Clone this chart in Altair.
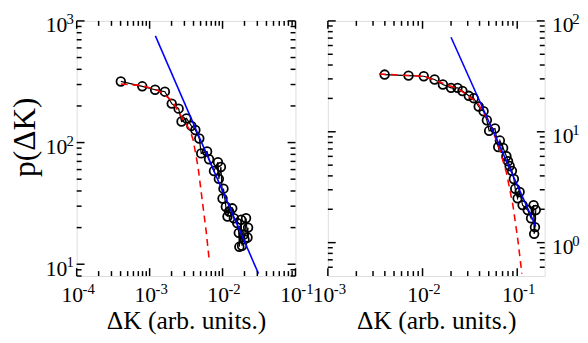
import altair as alt
import pandas as pd

FONT = "Liberation Serif, Times New Roman, DejaVu Serif, serif"

# ---------------- left panel data ----------------
left_pts_x = [4.03e-4, 7.93e-4, 1.19e-3, 1.62e-3, 2.01e-3, 2.50e-3, 2.74e-3, 3.20e-3, 3.74e-3,
              4.24e-3, 4.80e-3, 5.10e-3, 6.14e-3, 6.53e-3, 7.63e-3, 8.65e-3, 8.90e-3, 9.50e-3,
              1.00e-2, 1.03e-2, 1.11e-2, 1.17e-2, 1.23e-2, 1.36e-2, 1.43e-2, 1.59e-2, 1.67e-2,
              1.70e-2, 1.80e-2, 1.85e-2, 1.96e-2, 2.00e-2, 2.10e-2, 2.20e-2, 2.24e-2]
left_pts_y = [318, 290, 272, 262, 209, 190, 149, 158, 137,
              127, 108, 81.5, 84.5, 72.9, 58.4, 69, 50.3, 62.9,
              34.7, 41.8, 29.7, 24.7, 27.1, 28.8, 23.9, 21.8, 18.1,
              13.9, 23.2, 14.2, 17.5, 16.0, 23.9, 16.6, 20.0]
left_fit_x = [4.03e-4, 7.93e-4, 1.33e-3, 2.01e-3, 2.74e-3, 3.55e-3, 3.94e-3, 4.60e-3,
              5.37e-3, 5.96e-3, 6.60e-3]
left_fit_y = [303, 294, 267, 222, 163, 127, 106, 64, 30.6, 18.7, 10.5]
left_pow_x = [1.2e-3, 3.11e-2]
left_pow_y = [753, 8.36]

# ---------------- right panel data ----------------
right_pts_x = [3.98e-3, 7.11e-3, 1.03e-2, 1.34e-2, 1.64e-2, 2.00e-2, 2.34e-2, 2.64e-2, 3.08e-2,
               3.47e-2, 3.92e-2, 4.41e-2, 4.78e-2, 5.05e-2, 5.82e-2, 6.30e-2, 6.56e-2, 7.10e-2,
               7.69e-2, 8.00e-2, 8.32e-2, 8.79e-2, 9.22e-2, 9.53e-2, 0.101, 0.106, 0.114,
               0.129, 0.140, 0.149, 0.151, 0.154, 0.157]
right_pts_y = [32.8, 32.1, 31.7, 29.6, 26.7, 24.9, 24.9, 23.3, 21.1,
               20.1, 16.9, 15.3, 12.7, 10.2, 10.7, 7.28, 8.33, 7.13,
               6.02, 5.43, 4.91, 4.44, 3.75, 3.06, 2.51, 2.86, 2.18,
               1.97, 1.66, 2.18, 1.20, 1.38, 1.97]
right_fit_x = [3.48e-3, 1.03e-2, 2.43e-2, 3.77e-2, 4.97e-2, 6.30e-2, 7.69e-2, 9.0e-2, 0.101, 0.112]
right_fit_y = [33.2, 31.7, 24.2, 18.4, 12.7, 7.63, 4.3, 2.18, 1.1, 0.525]
right_pow_x = [2.0e-2, 0.157]
right_pow_y = [71.3, 1.4]

# ---------------- axes ----------------
left_xdomain = [1e-4, 1e-1]
left_ydomain = [8, 1000]
right_xdomain = [1e-3, 0.195]
right_ydomain = [0.5, 100]

left_x_major = [1e-4, 1e-3, 1e-2, 1e-1]
left_x_exp = ["-4", "-3", "-2", "-1"]
left_x_minor = [m * 10.0 ** e for e in (-4, -3, -2) for m in range(2, 10)]
left_y_major = [10, 100, 1000]
left_y_exp = ["1", "2", "3"]
left_y_minor = [8, 9] + [m * 10 for m in range(2, 10)] + [m * 100 for m in range(2, 10)]
right_x_major = [1e-3, 1e-2, 1e-1]
right_x_exp = ["-3", "-2", "-1"]
right_x_minor = [m * 10.0 ** e for e in (-3, -2) for m in range(2, 10)]
right_y_major = [1, 10, 100]
right_y_exp = ["0", "1", "2"]
right_y_minor = [0.6, 0.7, 0.8, 0.9] + list(range(2, 10)) + [m * 10 for m in range(2, 10)]

W, H = 223, 260
BASE_SIZE = 22
EXP_SIZE = 15


def panel(w, h, px, py, fx, fy, bx, by, xdom, ydom, xmaj, xexp, xmin, ymaj, yexp, ymin,
          yorient, ytitle):
    xs = alt.Scale(type="log", domain=xdom, nice=False)
    ys = alt.Scale(type="log", domain=ydom, nice=False)
    xaxis = alt.Axis(values=xmaj, labelExpr="'10'", ticks=False, domain=False, grid=False,
                     labelFlush=False, labelOverlap=False, labelFont=FONT,
                     labelFontSize=BASE_SIZE, labelColor="black", labelPadding=9,
                     labelAlign="right", labelOffset=6,
                     title="ΔK (arb. units.)", titleFont=FONT, titleFontSize=26,
                     titleFontWeight="normal", titleColor="black", titlePadding=2)
    yaxis = alt.Axis(orient=yorient, values=ymaj, labelExpr="'10'", ticks=False, domain=False,
                     grid=False, labelFlush=False, labelOverlap=False, labelFont=FONT,
                     labelFontSize=BASE_SIZE, labelColor="black",
                     labelPadding=10 if yorient == "left" else 7, labelOffset=4,
                     title=ytitle, titleFont=FONT, titleFontSize=32, titleFontWeight="normal",
                     titleColor="black", titlePadding=4, titleY=118)

    def X(f):
        return alt.X(f, type="quantitative", scale=xs, axis=xaxis)

    def Y(f):
        return alt.Y(f, type="quantitative", scale=ys, axis=yaxis)

    pts = pd.DataFrame({"x": px, "y": py})
    fit = pd.DataFrame({"x": fx, "y": fy})
    pw = pd.DataFrame({"x": bx, "y": by})
    layers = [
        alt.Chart(pts).mark_line(color="black", strokeWidth=1.2).encode(x=X("x"), y=Y("y")),
        alt.Chart(pts).mark_point(shape="circle", filled=False, color="black", size=78,
                                  strokeWidth=1.8, opacity=1).encode(x=X("x"), y=Y("y")),
        alt.Chart(fit).mark_line(color="#ff0000", strokeWidth=1.6, strokeDash=[7, 5]).encode(x=X("x"), y=Y("y")),
        alt.Chart(pw).mark_line(color="#0000ff", strokeWidth=1.6).encode(x=X("x"), y=Y("y")),
    ]
    # inward ticks on all four sides
    for vals, L in ((xmaj, 8), (xmin, 5)):
        df = pd.DataFrame({"v": vals})
        layers.append(alt.Chart(df).mark_rule(color="black", strokeWidth=1.5).encode(
            x=X("v"), y=alt.value(h), y2=alt.value(h - L)))
        layers.append(alt.Chart(df).mark_rule(color="black", strokeWidth=1.5).encode(
            x=X("v"), y=alt.value(0), y2=alt.value(L)))
    for vals, L in ((ymaj, 8), (ymin, 5)):
        df = pd.DataFrame({"v": vals})
        layers.append(alt.Chart(df).mark_rule(color="black", strokeWidth=1.5).encode(
            y=Y("v"), x=alt.value(0), x2=alt.value(L)))
        layers.append(alt.Chart(df).mark_rule(color="black", strokeWidth=1.5).encode(
            y=Y("v"), x=alt.value(w), x2=alt.value(w - L)))
    # superscript exponents of the tick labels
    xe = pd.DataFrame({"v": xmaj, "e": xexp})
    layers.append(alt.Chart(xe).mark_text(font=FONT, fontSize=EXP_SIZE, color="black",
                                          align="left", baseline="top", dx=6).encode(
        x=X("v"), y=alt.value(h + 6), text="e:N"))
    ye = pd.DataFrame({"v": ymaj, "e": yexp})
    if yorient == "left":
        layers.append(alt.Chart(ye).mark_text(font=FONT, fontSize=EXP_SIZE, color="black",
                                              align="right", baseline="middle", dy=-2).encode(
            y=Y("v"), x=alt.value(-3), text="e:N"))
    else:
        layers.append(alt.Chart(ye).mark_text(font=FONT, fontSize=EXP_SIZE, color="black",
                                              align="left", baseline="middle", dy=-2).encode(
            y=Y("v"), x=alt.value(w + 28), text="e:N"))
    return alt.layer(*layers).properties(width=w, height=h)


left = panel(W, H, left_pts_x, left_pts_y, left_fit_x, left_fit_y, left_pow_x, left_pow_y,
             left_xdomain, left_ydomain, left_x_major, left_x_exp, left_x_minor,
             left_y_major, left_y_exp, left_y_minor, "left", "p(ΔK)")
right = panel(221, H, right_pts_x, right_pts_y, right_fit_x, right_fit_y, right_pow_x, right_pow_y,
              right_xdomain, right_ydomain, right_x_major, right_x_exp, right_x_minor,
              right_y_major, right_y_exp, right_y_minor, "right", "")

chart = alt.hconcat(left, right, spacing=33, bounds="flush").configure_view(
    stroke="black", strokeWidth=1.5
).configure(font=FONT).properties(
    padding={"left": 0, "top": 0, "right": 0, "bottom": 0}, background="white")

chart.save("out.html", embed_options={"renderer": "svg", "actions": False})
